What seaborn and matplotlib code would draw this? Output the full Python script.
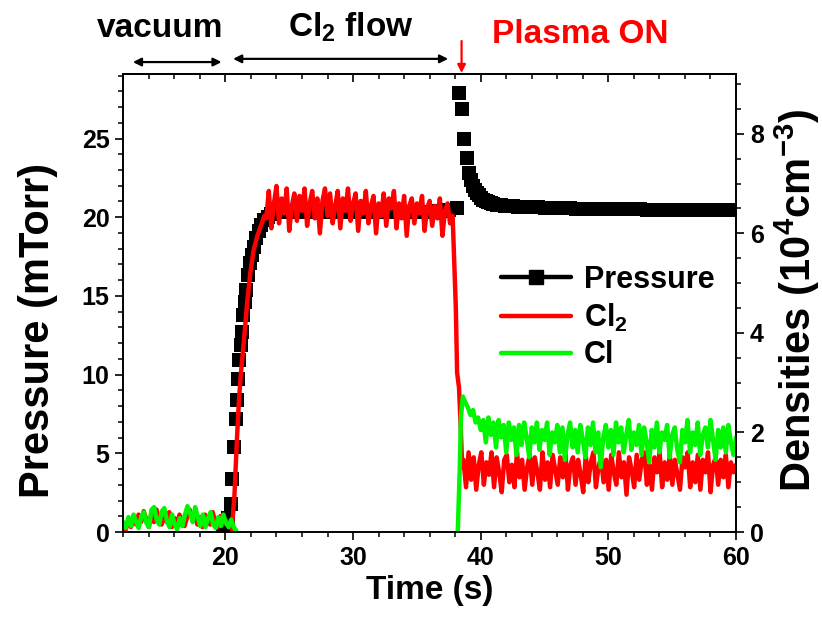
import numpy as np
import pandas as pd
import matplotlib
matplotlib.use("Agg")
import matplotlib.pyplot as plt
import seaborn as sns
from matplotlib.lines import Line2D
from matplotlib.ticker import MultipleLocator

# ---------------- data ----------------
# Chamber pressure (mTorr): gas inlet ramp, plateau, plasma ignition spike and relaxation
pressure_t = [19.8, 20.0, 20.2, 20.4, 20.55, 20.7, 20.8, 20.9, 21.0, 21.1, 21.2, 21.3,
              21.4, 21.5, 21.6, 21.75, 21.9, 22.05, 22.2, 22.4, 22.6, 22.8, 23.0, 23.3,
              23.6, 24.0, 24.5, 25.0, 25.5, 26.0, 26.5, 27.0, 27.5, 28.0, 28.5, 29.0,
              29.5, 30.0, 30.5, 31.0, 31.5, 32.0, 32.5, 33.0, 33.5, 34.0, 34.5, 35.0,
              35.5, 36.0, 36.5, 37.0, 37.5, 38.16, 38.31, 38.5, 38.7, 38.91, 39.09,
              39.25, 39.4, 39.55, 39.7, 39.85, 40.0, 40.2, 40.4, 40.6, 40.8, 41.0,
              41.3, 41.6, 41.9, 42.2, 42.5, 42.9, 43.3, 43.7, 44.1, 44.5, 45.0, 45.5,
              46.0, 46.5, 47.0, 47.5, 48.0, 48.5, 49.0, 49.5, 50.0, 50.5, 51.0, 51.5,
              52.0, 52.5, 53.0, 53.5, 54.0, 54.5, 55.0, 55.5, 56.0, 56.5, 57.0, 57.5,
              58.0, 58.5, 59.0, 59.5, 60.0]
pressure = [0.2, 0.4, 0.9, 1.8, 3.4, 5.4, 7.2, 8.4, 9.7, 10.9, 11.9, 12.7,
            13.8, 14.6, 15.4, 16.3, 17.1, 17.6, 18.1, 18.7, 19.1, 19.5, 19.8, 20.0,
            20.2, 20.3, 20.3, 20.35, 20.3, 20.35, 20.3, 20.3, 20.35, 20.3, 20.3, 20.35,
            20.3, 20.3, 20.35, 20.3, 20.3, 20.35, 20.3, 20.3, 20.35, 20.3, 20.3, 20.35,
            20.3, 20.35, 20.4, 20.4, 20.45, 20.6, 27.9, 26.9, 25.0, 23.75, 22.8,
            22.35, 22.0, 21.75, 21.55, 21.4, 21.25, 21.12, 21.02, 20.95, 20.9, 20.85,
            20.8, 20.77, 20.74, 20.72, 20.7, 20.68, 20.66, 20.65, 20.63, 20.62, 20.6, 20.59,
            20.58, 20.57, 20.56, 20.55, 20.54, 20.54, 20.53, 20.52, 20.52, 20.51, 20.5, 20.5,
            20.49, 20.49, 20.48, 20.48, 20.47, 20.47, 20.46, 20.46, 20.45, 20.45, 20.45, 20.44,
            20.44, 20.44, 20.43, 20.43, 20.43]

# Cl2 density (10^4 cm^-3)
cl2_pre = [0.15, 0.05, 0.25, 0.1, 0.3, 0.15, 0.35, 0.2, 0.42, 0.25, 0.1, 0.38, 0.2,
           0.45, 0.25, 0.15, 0.35, 0.2, 0.4, 0.1, 0.28, 0.15, 0.35, 0.2, 0.12, 0.3,
           0.45, 0.25, 0.38, 0.15, 0.3, 0.1, 0.35, 0.25, 0.15, 0.4, 0.2, 0.1, 0.32,
           0.15, 0.25, 0.12, 0.2]
cl2_pre_span = (12.0, 20.4)
cl2_rise_t = [20.5, 20.7, 20.9, 21.05, 21.2, 21.4, 21.7, 21.95, 22.2, 22.5, 22.85, 23.05]
cl2_rise = [0.05, 0.7, 1.85, 2.6, 3.15, 3.7, 4.6, 5.2, 5.65, 5.95, 6.2, 6.35]
cl2_flow = [6.3, 6.85, 6.1, 6.6, 6.95, 6.2, 6.7, 6.4, 6.9, 6.05, 6.55, 6.8, 6.25, 6.75,
            6.45, 6.9, 6.15, 6.6, 6.85, 6.3, 6.7, 6.0, 6.65, 6.9, 6.35, 6.8, 6.2, 6.55,
            6.85, 6.1, 6.7, 6.45, 6.9, 6.25, 6.6, 6.8, 6.05, 6.65, 6.4, 6.85, 6.2, 6.55,
            6.75, 6.0, 6.6, 6.35, 6.8, 6.15, 6.7, 6.5, 6.85, 6.1, 6.6, 6.3, 6.75, 5.95,
            6.55, 6.7, 6.2, 6.6, 6.4, 6.75, 6.05, 6.5, 6.65, 6.15, 6.55, 6.3, 6.7, 5.95,
            6.45, 6.6, 6.2, 6.35]
cl2_flow_span = (23.2, 37.8)
cl2_drop_t = [38.05, 38.15, 38.3, 38.45, 38.55]
cl2_drop = [4.5, 3.2, 2.9, 2.0, 1.3]
cl2_plasma = [1.45, 0.9, 1.6, 1.05, 1.5, 0.85, 1.35, 1.6, 0.95, 1.4, 1.15, 1.6, 0.9,
              1.5, 1.2, 0.8, 1.45, 1.55, 1.0, 1.35, 0.9, 1.6, 1.1, 1.45, 0.85, 1.3,
              1.55, 0.95, 1.5, 1.2, 0.85, 1.6, 1.05, 1.4, 0.9, 1.55, 1.25, 0.95, 1.5,
              1.1, 1.6, 0.85, 1.35, 1.5, 0.95, 1.45, 1.15, 0.8, 1.55, 1.0, 1.4, 1.6,
              0.9, 1.3, 1.5, 1.0, 1.45, 0.85, 1.55, 1.2, 0.95, 1.6, 1.1, 1.4, 0.75,
              1.5, 1.25, 0.9, 1.55, 1.05, 1.45, 1.6, 0.95, 1.35, 0.85, 1.5, 1.2, 1.6,
              0.9, 1.4, 1.05, 1.55, 0.95, 1.45, 1.15, 0.85, 1.5, 1.3, 1.6, 0.9, 1.4,
              1.0, 1.55, 0.85, 1.45, 1.2, 1.6, 0.8, 1.35, 1.5, 0.95, 1.45, 1.1, 1.55,
              0.9, 1.4, 1.2, 1.35]
cl2_plasma_span = (38.65, 60.0)

# Cl density (10^4 cm^-3)
cl_pre = [0.2, 0.08, 0.3, 0.12, 0.35, 0.2, 0.08, 0.32, 0.4, 0.18, 0.1, 0.45, 0.5,
          0.25, 0.15, 0.42, 0.48, 0.22, 0.1, 0.35, 0.15, 0.05, 0.28, 0.12, 0.35, 0.52,
          0.38, 0.2, 0.5, 0.3, 0.12, 0.35, 0.1, 0.28, 0.4, 0.15, 0.08, 0.3, 0.12,
          0.35, 0.18, 0.1, 0.25, 0.1, 0.03]
cl_pre_span = (12.0, 20.85)
cl_ignite_t = [38.2, 38.35, 38.45, 38.6, 38.8, 39.0, 39.2, 39.4, 39.6, 39.8, 40.0]
cl_ignite = [0.0, 1.2, 2.3, 2.72, 2.6, 2.5, 2.35, 2.45, 2.2, 2.3, 2.05]
cl_plasma = [2.25, 1.8, 2.3, 1.95, 2.2, 1.7, 2.25, 1.9, 2.15, 1.6, 2.2, 1.85, 2.1,
             1.55, 2.15, 1.75, 2.2, 1.9, 1.5, 2.1, 1.8, 2.2, 1.65, 2.05, 1.85, 2.2,
             1.55, 2.0, 1.8, 2.15, 1.6, 2.1, 1.45, 1.95, 2.2, 1.7, 2.05, 1.6, 2.15,
             1.85, 1.5, 2.1, 1.75, 2.2, 1.6, 2.0, 1.3, 1.9, 2.15, 1.7, 2.05, 1.55,
             2.2, 1.8, 2.1, 1.6, 1.95, 2.25, 1.65, 2.0, 1.75, 2.15, 1.55, 2.1, 1.8,
             1.4, 2.05, 1.7, 2.2, 1.6, 2.0, 1.85, 2.15, 1.5, 1.95, 2.1, 1.65, 1.4,
             2.05, 1.8, 2.25, 1.6, 2.0, 1.75, 2.2, 1.55, 1.95, 2.1, 1.7, 2.25, 1.85,
             1.45, 2.05, 1.7, 2.1, 1.6, 2.15, 1.8, 1.55, 1.9]
cl_plasma_span = (40.2, 60.0)

legend_labels = ["Pressure", "Cl$_2$", "Cl"]
x_ticks = [20, 30, 40, 50, 60]

RED = "#ff0000"
GREEN = "#00f500"

# ---------------- style ----------------
sns.set_theme(style="ticks")
plt.rcParams["font.family"] = ["Liberation Sans", "DejaVu Sans"]
plt.rcParams.update({
    "font.weight": "bold",
    "axes.labelweight": "bold",
    "text.color": "black",
    "axes.labelcolor": "black",
    "xtick.color": "black",
    "ytick.color": "black",
    "axes.edgecolor": "black",
    "mathtext.fontset": "custom",
    "mathtext.rm": "Liberation Sans:bold",
    "mathtext.it": "Liberation Sans:bold",
    "mathtext.bf": "Liberation Sans:bold",
    "mathtext.default": "regular",
})


def spanned(values, span):
    return pd.DataFrame({"t": np.linspace(span[0], span[1], len(values)), "v": values})


cl2_df = pd.concat([
    spanned(cl2_pre, cl2_pre_span),
    pd.DataFrame({"t": cl2_rise_t, "v": cl2_rise}),
    spanned(cl2_flow, cl2_flow_span),
    pd.DataFrame({"t": cl2_drop_t, "v": cl2_drop}),
    spanned(cl2_plasma, cl2_plasma_span),
], ignore_index=True)
cl_pre_df = spanned(cl_pre, cl_pre_span)
cl_post_df = pd.concat([
    pd.DataFrame({"t": cl_ignite_t, "v": cl_ignite}),
    spanned(cl_plasma, cl_plasma_span),
], ignore_index=True)
p_df = pd.DataFrame({"t": pressure_t, "p": pressure})

fig = plt.figure(figsize=(8.22, 6.19), dpi=100)
ax = fig.add_axes([0.15, 0.1405, 0.7454, 0.74])
ax2 = ax.twinx()

sns.scatterplot(data=p_df, x="t", y="p", ax=ax, marker="s", s=100, color="black",
                linewidth=0, legend=False)
sns.lineplot(data=cl2_df, x="t", y="v", ax=ax2, color=RED, lw=3.2,
             estimator=None, sort=False)
for seg in (cl_pre_df, cl_post_df):
    sns.lineplot(data=seg, x="t", y="v", ax=ax2, color=GREEN, lw=3.2,
                 estimator=None, sort=False)

ax.set_xlim(12, 60)
ax.set_ylim(0, 29.1)
ax2.set_ylim(0, 9.2)
ax.set_xticks(x_ticks)
ax.xaxis.set_minor_locator(MultipleLocator(2))
ax.yaxis.set_major_locator(MultipleLocator(5))
ax.yaxis.set_minor_locator(MultipleLocator(1))
ax2.yaxis.set_major_locator(MultipleLocator(2))
ax2.yaxis.set_minor_locator(MultipleLocator(0.5))

for a in (ax, ax2):
    for s in a.spines.values():
        s.set_linewidth(1.2)
        s.set_color("black")
ax.tick_params(which="major", length=6, width=1.2, labelsize=18, pad=4)
ax.tick_params(which="minor", length=3.5, width=1.1)
ax2.tick_params(which="major", length=6, width=1.2, labelsize=18, pad=4)
ax2.tick_params(which="minor", length=3.5, width=1.1)

top = ax.secondary_xaxis("top")
top.set_xticks(x_ticks)
top.xaxis.set_minor_locator(MultipleLocator(2))
top.tick_params(which="major", direction="in", length=6, width=1.2, labeltop=False)
top.tick_params(which="minor", direction="in", length=3.5, width=1.1)
top.spines["top"].set_linewidth(1.2)

ax.set_xlabel("Time (s)", fontsize=24, labelpad=4)
ax.set_ylabel("Pressure (mTorr)", fontsize=30)
ax.yaxis.set_label_coords(-0.107, 0.44)
ax2.set_ylabel("Densities (10$^4$cm$^{-3}$)", fontsize=30)
ax2.yaxis.set_label_coords(1.06, 0.505)

# phase annotations above the frame
tr = ax.get_xaxis_transform()
ax.text(14.9, 1.08, "vacuum", transform=tr, ha="center", va="baseline", fontsize=24)
ax.text(29.85, 1.081, "Cl$_2$ flow", transform=tr, ha="center", va="baseline", fontsize=24)
ax.text(47.8, 1.068, "Plasma ON", transform=tr, ha="center", va="baseline",
        fontsize=24, color=RED)
arrow_kw = dict(arrowstyle="<|-|>", color="black", lw=1.6, mutation_scale=12,
                shrinkA=0, shrinkB=0)
ax.annotate("", xy=(12.75, 1.026), xytext=(19.7, 1.026), xycoords=tr, textcoords=tr,
            arrowprops=arrow_kw, annotation_clip=False)
ax.annotate("", xy=(20.6, 1.033), xytext=(37.45, 1.033), xycoords=tr, textcoords=tr,
            arrowprops=arrow_kw, annotation_clip=False)
ax.annotate("", xy=(38.5, 1.002), xytext=(38.5, 1.072), xycoords=tr, textcoords=tr,
            arrowprops=dict(arrowstyle="-|>", color=RED, lw=1.6, mutation_scale=12,
                            shrinkA=0, shrinkB=0), annotation_clip=False)

handles = [
    Line2D([], [], color="black", lw=3.2, marker="s", markersize=10),
    Line2D([], [], color=RED, lw=3.2),
    Line2D([], [], color=GREEN, lw=3.2),
]
ax2.legend(handles, legend_labels, loc="upper left", bbox_to_anchor=(0.591, 0.597),
           bbox_transform=fig.transFigure, frameon=False, fontsize=22,
           handlelength=2.3, handletextpad=0.4, labelspacing=0.22, borderpad=0)

fig.savefig("out.png", dpi=100)
